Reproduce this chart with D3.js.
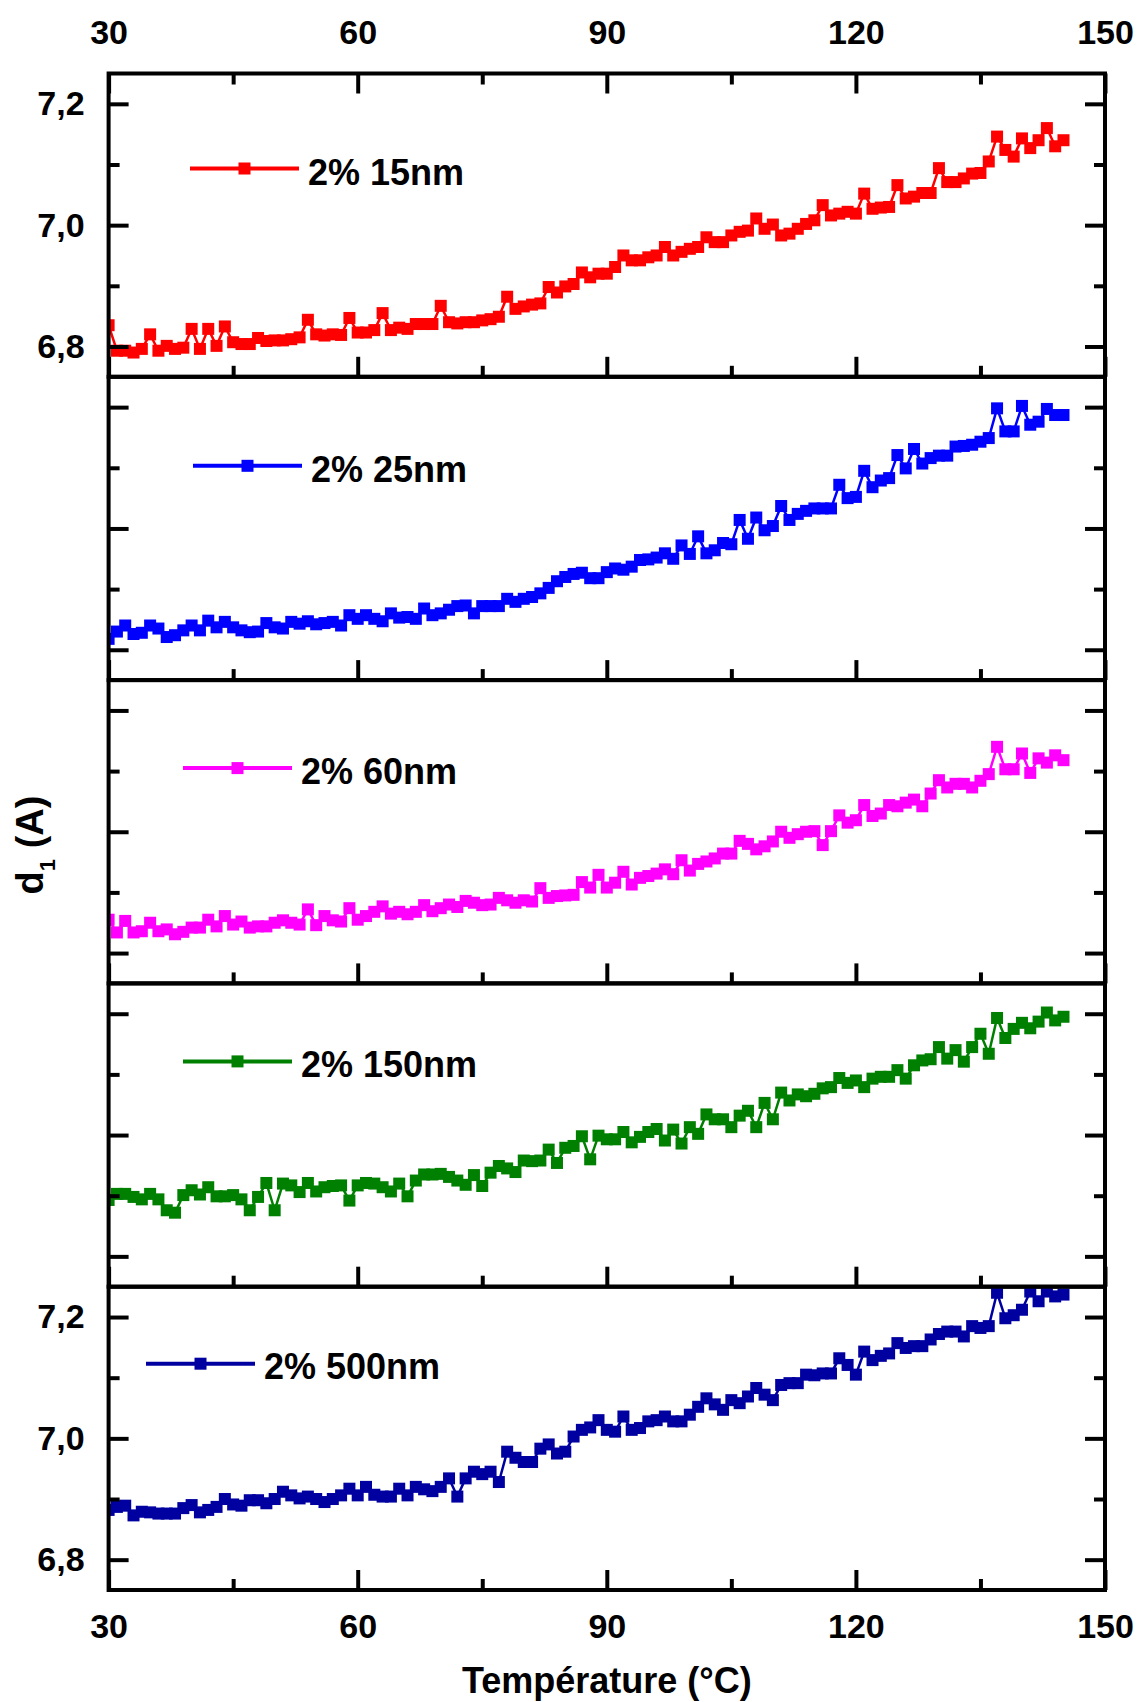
<!DOCTYPE html>
<html><head><meta charset="utf-8">
<script src="https://cdn.jsdelivr.net/npm/d3@7"></script>
<style>
body{margin:0;background:#fff}
svg{display:block}
text{font-family:"Liberation Sans",Arial,sans-serif;font-weight:bold}
</style>
</head><body>
<svg id="c" width="1140" height="1702"></svg>
<script>
// ---------------- data ----------------
const temperature = [30,31,32,33,34,35,36,37,38,39,40,41,42,43,44,45,46,47,48,49,
50,51,52,53,54,55,56,57,58,59,60,61,62,63,64,65,66,67,68,69,
70,71,72,73,74,75,76,77,78,79,80,81,82,83,84,85,86,87,88,89,
90,91,92,93,94,95,96,97,98,99,100,101,102,103,104,105,106,107,108,109,
110,111,112,113,114,115,116,117,118,119,120,121,122,123,124,125,126,127,128,129,
130,131,132,133,134,135,136,137,138,139,140,141,142,143,144,145];

const d1_15nm = [6.835,6.793,6.793,6.790,6.796,6.820,6.793,6.801,6.796,6.798,
6.829,6.796,6.829,6.801,6.833,6.807,6.804,6.804,6.814,6.809,
6.810,6.810,6.812,6.815,6.844,6.820,6.818,6.820,6.819,6.847,
6.823,6.823,6.827,6.855,6.827,6.831,6.829,6.837,6.837,6.837,
6.867,6.840,6.838,6.840,6.840,6.843,6.845,6.849,6.882,6.862,
6.866,6.869,6.871,6.898,6.889,6.899,6.903,6.922,6.914,6.920,
6.920,6.931,6.950,6.942,6.942,6.947,6.950,6.964,6.950,6.956,
6.961,6.964,6.980,6.972,6.972,6.983,6.989,6.991,7.011,6.994,
7.001,6.983,6.986,6.994,7.002,7.008,7.033,7.016,7.019,7.022,
7.019,7.052,7.027,7.029,7.030,7.066,7.044,7.047,7.053,7.053,
7.094,7.071,7.071,7.077,7.085,7.086,7.105,7.146,7.124,7.113,
7.143,7.127,7.140,7.160,7.130,7.140];

const d1_25nm = [6.818,6.830,6.840,6.826,6.828,6.840,6.835,6.821,6.824,6.832,
6.840,6.832,6.848,6.837,6.846,6.837,6.832,6.829,6.830,6.844,
6.837,6.835,6.846,6.843,6.847,6.842,6.844,6.846,6.840,6.857,
6.851,6.857,6.851,6.847,6.860,6.853,6.854,6.851,6.868,6.857,
6.860,6.866,6.872,6.873,6.860,6.872,6.872,6.872,6.884,6.879,
6.884,6.887,6.893,6.902,6.913,6.920,6.925,6.927,6.918,6.918,
6.928,6.934,6.932,6.937,6.948,6.949,6.952,6.959,6.950,6.972,
6.958,6.987,6.959,6.964,6.976,6.974,7.014,6.983,7.018,6.997,
7.004,7.037,7.014,7.024,7.029,7.033,7.033,7.033,7.072,7.050,
7.052,7.095,7.068,7.079,7.083,7.121,7.099,7.131,7.107,7.116,
7.120,7.120,7.135,7.136,7.138,7.143,7.149,7.198,7.160,7.160,
7.202,7.171,7.176,7.197,7.187,7.187];

const d1_60nm = [6.855,6.834,6.853,6.834,6.836,6.850,6.836,6.839,6.831,6.835,
6.842,6.842,6.855,6.844,6.861,6.847,6.852,6.842,6.844,6.844,
6.850,6.854,6.850,6.847,6.872,6.846,6.861,6.854,6.852,6.874,
6.855,6.861,6.868,6.877,6.865,6.868,6.864,6.868,6.879,6.869,
6.874,6.880,6.876,6.886,6.883,6.879,6.880,6.891,6.887,6.883,
6.887,6.885,6.907,6.891,6.894,6.895,6.896,6.917,6.908,6.929,
6.908,6.916,6.934,6.913,6.924,6.927,6.931,6.938,6.930,6.953,
6.936,6.947,6.951,6.956,6.964,6.964,6.985,6.980,6.971,6.976,
6.984,7.000,6.990,6.996,7.000,7.001,6.978,7.001,7.027,7.015,
7.019,7.044,7.026,7.030,7.044,7.042,7.048,7.053,7.042,7.063,
7.085,7.073,7.079,7.079,7.073,7.084,7.095,7.140,7.103,7.103,
7.129,7.097,7.121,7.114,7.126,7.118];

const d1_150nm = [6.893,6.903,6.903,6.898,6.894,6.903,6.894,6.876,6.872,6.901,
6.909,6.902,6.914,6.899,6.899,6.901,6.894,6.876,6.898,6.921,
6.876,6.920,6.917,6.906,6.921,6.907,6.914,6.916,6.917,6.892,
6.917,6.921,6.920,6.914,6.907,6.920,6.899,6.925,6.935,6.935,
6.936,6.931,6.925,6.918,6.934,6.916,6.938,6.949,6.945,6.939,
6.958,6.957,6.958,6.976,6.954,6.979,6.982,6.998,6.960,6.999,
6.993,6.993,7.005,6.988,6.997,7.005,7.010,6.991,7.009,6.986,
7.013,7.002,7.034,7.026,7.026,7.013,7.032,7.040,7.013,7.053,
7.026,7.070,7.057,7.067,7.064,7.068,7.077,7.079,7.094,7.086,
7.090,7.079,7.093,7.096,7.096,7.107,7.093,7.115,7.123,7.125,
7.145,7.126,7.140,7.121,7.145,7.167,7.134,7.193,7.160,7.175,
7.185,7.176,7.187,7.202,7.189,7.195];

const d1_500nm = [6.882,6.887,6.889,6.873,6.879,6.878,6.876,6.876,6.876,6.885,
6.890,6.878,6.882,6.887,6.900,6.891,6.889,6.898,6.898,6.893,
6.900,6.912,6.906,6.901,6.904,6.900,6.895,6.900,6.906,6.917,
6.906,6.920,6.907,6.904,6.904,6.917,6.906,6.920,6.916,6.913,
6.920,6.934,6.904,6.934,6.945,6.941,6.945,6.928,6.978,6.968,
6.961,6.961,6.983,6.990,6.975,6.978,7.003,7.014,7.018,7.030,
7.014,7.011,7.036,7.014,7.017,7.028,7.030,7.036,7.028,7.028,
7.039,7.052,7.066,7.056,7.047,7.063,7.058,7.069,7.083,7.072,
7.063,7.088,7.091,7.091,7.105,7.104,7.107,7.107,7.132,7.121,
7.105,7.143,7.129,7.136,7.140,7.157,7.149,7.152,7.152,7.163,
7.172,7.176,7.176,7.168,7.185,7.182,7.185,7.240,7.198,7.203,
7.212,7.242,7.226,7.242,7.234,7.237];

const seriesNames = ["2% 15nm","2% 25nm","2% 60nm","2% 150nm","2% 500nm"];
const xTicksMajor = [30,60,90,120,150];
const xTicksMinor = [45,75,105,135];
const yTicksMajor = [6.8,7.0,7.2];
const yTicksMinor = [6.9,7.1];
const yDomain = [6.75,7.25];
const xDomain = [30,150];
const xTitle = "Température (°C)";

// ---------------- layout / style ----------------
const seriesValues = [d1_15nm,d1_25nm,d1_60nm,d1_150nm,d1_500nm];
const colors = ["#FF0000","#0000FF","#FF00FF","#008000","#0000A0"];
const legendLayout = [
  {x0:190,x1:299,ly:95,tx:308,ty:111},
  {x0:193,x1:302,ly:89,tx:311,ty:105},
  {x0:183,x1:292,ly:88,tx:301,ty:104},
  {x0:183,x1:292,ly:78,tx:301,ty:93.5},
  {x0:146,x1:255,ly:77,tx:264,ty:92.5}
];
const L=108.6, R=1105, T0=73.5, PH=303.3;
const MS=12, LW=2.5, AXW=4, TMAJ=20, TMIN=11, FS=34;

const svg = d3.select("#c");
const x = d3.scaleLinear().domain(xDomain).range([L,R]);
const fmtY = v => d3.format(".1f")(v).replace(".",",");

function drawAxis(gen, scale, ticks, size, withLabels, pad, transform, fmt){
  const a = gen(scale).tickValues(ticks).tickSizeInner(size).tickSizeOuter(0)
    .tickPadding(pad).tickFormat(withLabels ? fmt : "");
  const g = svg.append("g").attr("transform",transform).call(a);
  g.select(".domain").remove();
  g.selectAll("line").attr("stroke","#000").attr("stroke-width",AXW);
  g.selectAll("text").attr("font-size",FS).attr("font-weight","bold")
    .attr("fill","#000").attr("font-family",'"Liberation Sans",Arial,sans-serif');
  return g;
}

seriesValues.forEach((vals,i)=>{
  const top = T0 + i*PH, bot = top + PH;
  const y = d3.scaleLinear().domain(yDomain).range([bot, top]);
  const cid = "clip"+i;
  svg.append("clipPath").attr("id",cid).append("rect")
    .attr("x",L).attr("y",top).attr("width",R-L).attr("height",PH);
  const pts = temperature.map((t,j)=>[t, vals[j]]);
  const dg = svg.append("g").attr("clip-path",`url(#${cid})`);
  dg.append("path").datum(pts)
    .attr("d", d3.line().x(d=>x(d[0])).y(d=>y(d[1])))
    .attr("fill","none").attr("stroke",colors[i]).attr("stroke-width",LW);
  dg.selectAll("rect.m").data(pts).join("rect").attr("class","m")
    .attr("x",d=>x(d[0])-MS/2).attr("y",d=>y(d[1])-MS/2)
    .attr("width",MS).attr("height",MS).attr("fill",colors[i]);

  // legend
  const lg = legendLayout[i];
  svg.append("line").attr("x1",lg.x0).attr("x2",lg.x1)
    .attr("y1",top+lg.ly).attr("y2",top+lg.ly)
    .attr("stroke",colors[i]).attr("stroke-width",4);
  svg.append("rect").attr("x",(lg.x0+lg.x1)/2-6).attr("y",top+lg.ly-6)
    .attr("width",12).attr("height",12).attr("fill",colors[i]);
  svg.append("text").attr("x",lg.tx).attr("y",top+lg.ty)
    .attr("font-size",36).attr("fill","#000").text(seriesNames[i]);

  // axes: bottom ticks (inward)
  const lastPanel = i===seriesValues.length-1;
  drawAxis(d3.axisBottom, x, xTicksMajor, -TMAJ, lastPanel, 24, `translate(0,${bot})`, d3.format("d"));
  drawAxis(d3.axisBottom, x, xTicksMinor, -TMIN, false, 24, `translate(0,${bot})`);
  if(i===0){
    drawAxis(d3.axisTop, x, xTicksMajor, -TMAJ, true, 30, `translate(0,${top})`, d3.format("d"));
    drawAxis(d3.axisTop, x, xTicksMinor, -TMIN, false, 30, `translate(0,${top})`);
  }
  const showY = (i===0 || lastPanel);
  drawAxis(d3.axisLeft, y, yTicksMajor, -TMAJ, showY, 24, `translate(${L},0)`, fmtY);
  drawAxis(d3.axisLeft, y, yTicksMinor, -TMIN, false, 24, `translate(${L},0)`);
  drawAxis(d3.axisRight, y, yTicksMajor, -TMAJ, false, 24, `translate(${R},0)`);
  drawAxis(d3.axisRight, y, yTicksMinor, -TMIN, false, 24, `translate(${R},0)`);

  svg.append("rect").attr("x",L).attr("y",top).attr("width",R-L).attr("height",PH)
    .attr("fill","none").attr("stroke","#000").attr("stroke-width",AXW);
});

// axis titles
svg.append("text").attr("x",(L+R)/2).attr("y",1693).attr("text-anchor","middle")
  .attr("font-size",36).attr("fill","#000").text(xTitle);
const yt = svg.append("text").attr("transform","translate(43,845) rotate(-90)")
  .attr("text-anchor","middle").attr("font-size",38).attr("fill","#000");
yt.append("tspan").text("d");
yt.append("tspan").attr("font-size",22).attr("dy",12).text("1");
yt.append("tspan").attr("dy",-12).text(" (A)");
</script>
</body></html>
